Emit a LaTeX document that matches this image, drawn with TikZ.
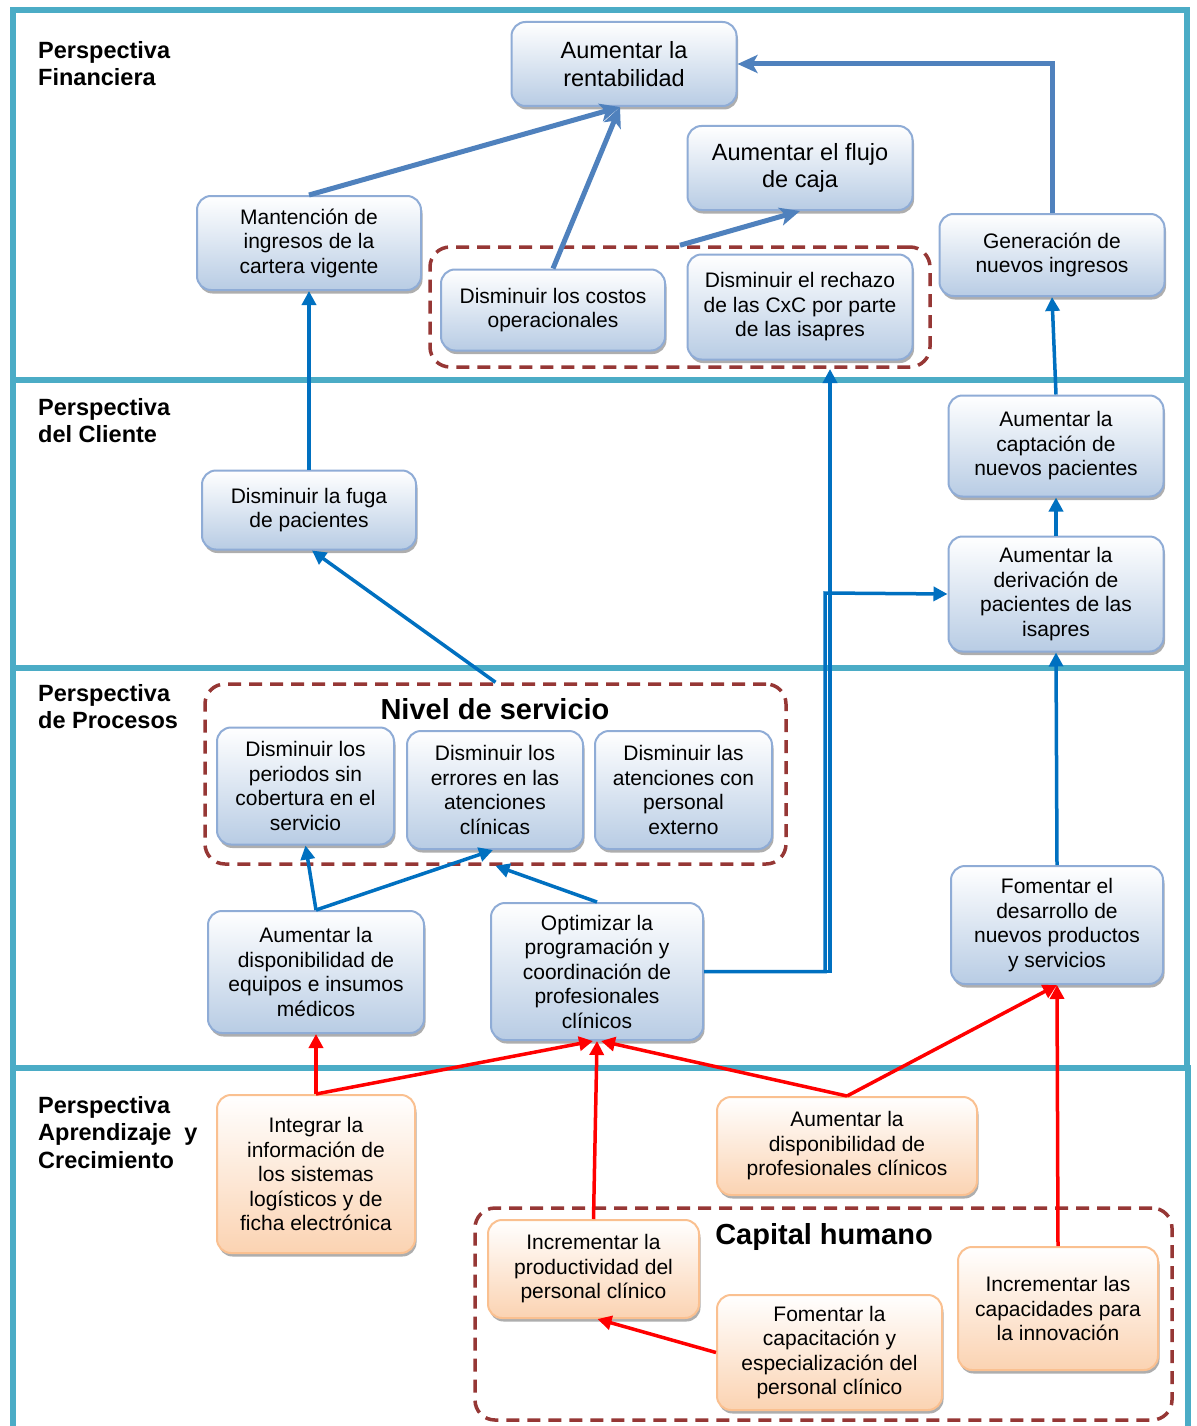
\documentclass[tikz,border=0pt]{standalone}
\usepackage{fontspec}
\setmainfont{Liberation Sans}
\usetikzlibrary{shadows,arrows.meta}
\definecolor{bandc}{RGB}{75,172,198}
\definecolor{bboxdraw}{RGB}{143,172,214}
\definecolor{bboxfill}{RGB}{184,204,228}
\definecolor{oboxdraw}{RGB}{250,192,144}
\definecolor{oboxfill}{RGB}{251,211,178}
\definecolor{dashred}{RGB}{150,55,53}
\definecolor{finblue}{RGB}{79,129,189}
\definecolor{arrblue}{RGB}{0,112,192}
\definecolor{arrred}{RGB}{255,0,0}
\newcommand\bxfont{\fontsize{21}{24.5}\selectfont}
\newcommand\bigbxfont{\fontsize{23.5}{27.5}\selectfont}
\newcommand\lblfont{\bfseries\fontsize{23.5}{27.5}\selectfont}
\newcommand\ttlfont{\bfseries\fontsize{29}{32}\selectfont}
\begin{document}
\begin{tikzpicture}[x=1pt,y=-1pt,
  basebox/.style={rounded corners=14pt, line width=2pt, align=center, inner sep=2pt, font=\bxfont,
    drop shadow={shadow xshift=1.5pt, shadow yshift=-3.5pt, fill=black!45, opacity=0.7}},
  bbox/.style={basebox, draw=bboxdraw, top color=white, bottom color=bboxfill},
  obox/.style={basebox, draw=oboxdraw, top color=white, bottom color=oboxfill},
  groupbox/.style={draw=dashred, line width=3.5pt, dash pattern=on 13pt off 8pt, rounded corners=20pt, inner sep=0pt},
  bandline/.style={draw=bandc, line width=6pt},
  lbl/.style={anchor=north west, align=left, inner sep=0pt, font=\lblfont},
  ttl/.style={inner sep=0pt, font=\ttlfont},
  finarrow/.style={draw=finblue, line width=5pt, -{Stealth[length=20pt, width=18pt, inset=5pt]}},
  bluearrow/.style={draw=arrblue, line width=3.5pt, -{Triangle[length=14pt, width=14pt]}},
  redarrow/.style={draw=arrred, line width=3.5pt, -{Triangle[length=14pt, width=14pt]}}
]
\useasboundingbox (0,0) rectangle (1196,1426);
\fill[white] (0,0) rectangle (1196,1426);

% bands
\draw[bandline] (13,10) rectangle (1187,380);
\draw[bandline] (13,380) rectangle (1187,668);
\draw[bandline] (13,668) rectangle (1187,1068);
\draw[bandline] (13,1430) -- (13,1068) -- (1188,1068) -- (1188,1430);

% band labels
\node[lbl] (l1) at (38,41) {Perspectiva\\Financiera};
\node[lbl] (l2) at (38,398) {Perspectiva\\del Cliente};
\node[lbl] (l3) at (38,684) {Perspectiva\\de Procesos};
\node[lbl] (l4) at (38,1096) {Perspectiva\\Aprendizaje~~y\\Crecimiento};

% group boxes
\node[groupbox, minimum width=500pt, minimum height=120pt] (g1) at (680,307) {};
\node[groupbox, minimum width=581pt, minimum height=180pt] (g2) at (495.5,774) {};
\node[groupbox, minimum width=697pt, minimum height=212pt] (g3) at (823.5,1314) {};
\node[ttl] (t2) at (495,709) {Nivel de servicio};
\node[ttl] (t3) at (824,1237) {Capital humano};

% Financiera
\node[bbox, font=\bigbxfont, minimum width=225pt, minimum height=84pt] (rent) at (624,64) {Aumentar la\\rentabilidad};
\node[bbox, minimum width=224pt, minimum height=94pt] (mant) at (309,243) {Mantención de\\ingresos de la\\cartera vigente};
\node[bbox, font=\bigbxfont, minimum width=225pt, minimum height=84pt] (flujo) at (800,168) {Aumentar el flujo\\de caja};
\node[bbox, minimum width=224pt, minimum height=81pt] (costos) at (553,310) {Disminuir los costos\\operacionales};
\node[bbox, minimum width=225pt, minimum height=105pt] (rech) at (800,307) {Disminuir el rechazo\\de las CxC por parte\\de las isapres};
\node[bbox, minimum width=225pt, minimum height=82pt] (gen) at (1052,255) {Generación de\\nuevos ingresos};

% Cliente
\node[bbox, minimum width=214pt, minimum height=79pt] (fuga) at (309,510) {Disminuir la fuga\\de pacientes};
\node[bbox, minimum width=215pt, minimum height=101pt] (capt) at (1056,446) {Aumentar la\\captación de\\nuevos pacientes};
\node[bbox, minimum width=215pt, minimum height=115pt] (der) at (1056,594) {Aumentar la\\derivación de\\pacientes de las\\isapres};

% Procesos
\node[bbox, minimum width=177pt, minimum height=117pt] (per) at (305.5,786) {Disminuir los\\periodos sin\\cobertura en el\\servicio};
\node[bbox, minimum width=176pt, minimum height=118pt] (err) at (495,790) {Disminuir los\\errores en las\\atenciones\\clínicas};
\node[bbox, minimum width=177pt, minimum height=118pt] (ext) at (683.5,790) {Disminuir las\\atenciones con\\personal\\externo};
\node[bbox, minimum width=216pt, minimum height=122pt] (ad) at (316,972) {Aumentar la\\disponibilidad de\\equipos e insumos\\médicos};
\node[bbox, minimum width=212pt, minimum height=137pt] (opt) at (597,971.5) {Optimizar la\\programación y\\coordinación de\\profesionales\\clínicos};
\node[bbox, minimum width=212pt, minimum height=118pt] (fom) at (1057,925) {Fomentar el\\desarrollo de\\nuevos productos\\y servicios};

% Aprendizaje
\node[obox, minimum width=198pt, minimum height=158pt] (int) at (316,1174) {Integrar la\\información de\\los sistemas\\logísticos y de\\ficha electrónica};
\node[obox, minimum width=260pt, minimum height=98pt] (ap) at (847,1146) {Aumentar la\\disponibilidad de\\profesionales clínicos};
\node[obox, minimum width=211pt, minimum height=98pt] (prod) at (593.5,1269) {Incrementar la\\productividad del\\personal clínico};
\node[obox, minimum width=225pt, minimum height=115pt] (cap) at (829.5,1352.5) {Fomentar la\\capacitación y\\especialización del\\personal clínico};
\node[obox, minimum width=200pt, minimum height=123pt] (inn) at (1058,1308.5) {Incrementar las\\capacidades para\\la innovación};

% coordinates
\coordinate (c1) at (830,369);
\coordinate (c2) at (825,593);

% Financiera arrows
\draw[finarrow] (mant.north) -- ([xshift=-4pt]rent.south);
\draw[finarrow] (costos.north) -- ([xshift=-4pt]rent.south);
\draw[finarrow] (g1.north) -- (flujo.south);
\draw[finarrow] (gen.north) |- (rent.east);

% Blue arrows
\draw[bluearrow] (fuga.north) -- (mant.south);
\draw[bluearrow] (capt.north) -- (gen.south);
\draw[bluearrow] (der.north) -- (capt.south);
\draw[bluearrow] (g2.north) -- ([xshift=3pt]fuga.south);
\draw[bluearrow] (fom.north) -- (der.south);
\draw[bluearrow] (ad.north) -- (per.south);
\draw[bluearrow] (ad.north) -- ([xshift=-2pt]err.south);
\draw[bluearrow] (opt.north) -- (g2.south);
\draw[bluearrow] (opt.east) -| (c1);
\draw[bluearrow] (opt.east) -| (c2) -- (der.west);

% Red arrows
\draw[redarrow] (int.north) -- (ad.south);
\draw[redarrow] (int.north) -- ([xshift=-4pt]opt.south);
\draw[redarrow] (prod.north) -- (opt.south);
\draw[redarrow] (ap.north) -- ([xshift=4pt]opt.south);
\draw[redarrow] (ap.north) -- (fom.south);
\draw[redarrow] (inn.north) -- (fom.south);
\draw[redarrow] (cap.west) -- ([xshift=4pt]prod.south);
\end{tikzpicture}
\end{document}
